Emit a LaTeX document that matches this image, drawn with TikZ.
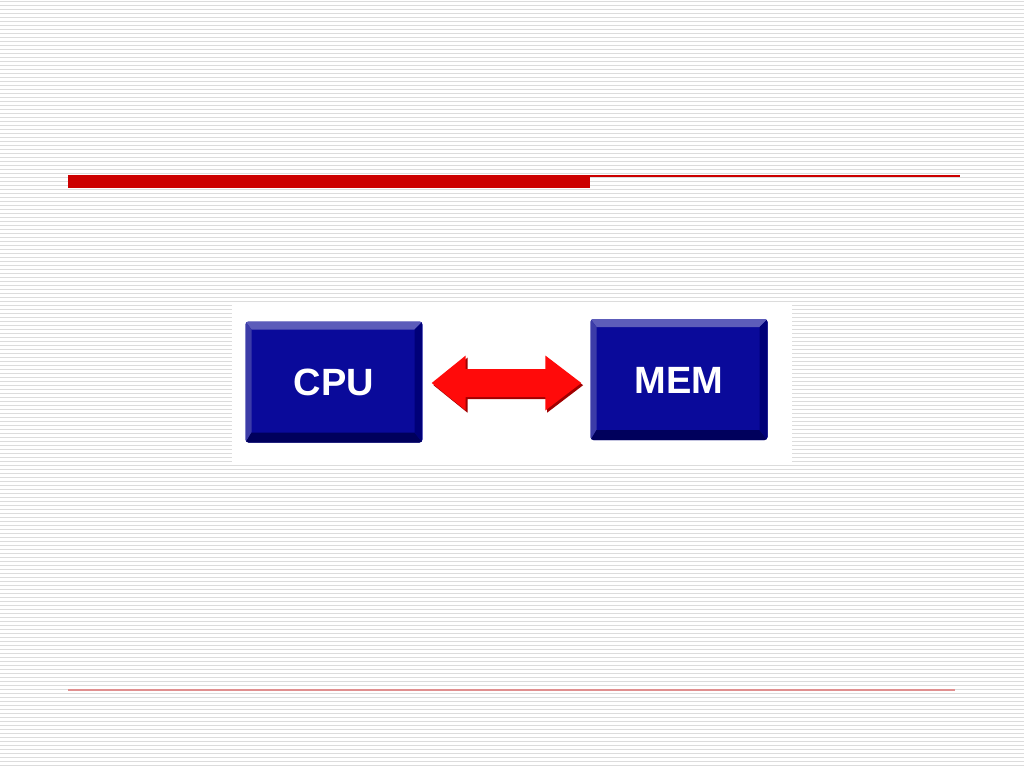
\documentclass[tikz,border=0pt]{standalone}
\usepackage{fontspec}
\setmainfont{Liberation Sans}
\usetikzlibrary{calc}
\definecolor{stripecol}{HTML}{DCDCDC}
\definecolor{barred}{HTML}{CC0000}
\definecolor{faintred}{HTML}{E09090}
\definecolor{keyface}{HTML}{0A0A9A}
\definecolor{keytop}{HTML}{5C5CBA}
\definecolor{keyleft}{HTML}{3C3CA8}
\definecolor{keybottom}{HTML}{00005C}
\definecolor{keyright}{HTML}{000078}
\definecolor{arrowred}{HTML}{FF0A0A}
\definecolor{arrowshade}{HTML}{A00000}
\tikzset{
  stripe/.style={draw=stripecol, line width=1.2pt},
  keybox/.style={rounded corners=3pt, fill=keyface, text=white,
    font=\fontsize{38}{40}\selectfont\bfseries, inner sep=0pt,
    text height=27pt, text depth=0pt,
    minimum width=177pt, minimum height=121pt,
    path picture={
      \fill[keytop, sharp corners] (path picture bounding box.north west) -- (path picture bounding box.north east)
        -- ([shift={(-8pt,-8pt)}]path picture bounding box.north east) -- ([shift={(6pt,-8pt)}]path picture bounding box.north west) -- cycle;
      \fill[keyleft, sharp corners] (path picture bounding box.north west) -- ([shift={(6pt,-8pt)}]path picture bounding box.north west)
        -- ([shift={(6pt,10pt)}]path picture bounding box.south west) -- (path picture bounding box.south west) -- cycle;
      \fill[keybottom, sharp corners] (path picture bounding box.south west) -- ([shift={(6pt,10pt)}]path picture bounding box.south west)
        -- ([shift={(-8pt,10pt)}]path picture bounding box.south east) -- (path picture bounding box.south east) -- cycle;
      \fill[keyright, sharp corners] (path picture bounding box.south east) -- ([shift={(-8pt,10pt)}]path picture bounding box.south east)
        -- ([shift={(-8pt,-8pt)}]path picture bounding box.north east) -- (path picture bounding box.north east) -- cycle;
    }},
}
\begin{document}
\begin{tikzpicture}[x=1pt,y=-1pt]
  \useasboundingbox (0,0) rectangle (1024,768);
  \fill[white] (0,0) rectangle (1024,768);
  \foreach \yy in {1.5,5.5,...,767.5} \draw[stripe] (0,\yy) -- (1024,\yy);
  % title rule
  \fill[barred] (68,175) rectangle (590,188);
  \draw[barred, line width=1.5pt] (589,175.8) -- (960,175.8);
  % bottom rule
  \draw[faintred, line width=1.2pt] (68,690) -- (955,690);
  % picture panel
  \fill[white] (232,304) rectangle (792,463);
  % boxes
  \node[keybox] (cpu) at (334,382) {CPU};
  \node[keybox] (mem) at (679,379.5) {MEM};
  % double arrow between them
  \coordinate (al) at ($(cpu.east)+(9,1)$);
  \coordinate (ar) at ($(mem.west)+(-9,3.5)$);
  \begin{scope}[transform canvas={shift={(1.8pt,-2.2pt)}}]
  \fill[arrowshade] (al) -- ($(al)+(34,-27.5)$) -- ($(al)+(34,-14)$) -- ($(ar)+(-36,-14)$)
     -- ($(ar)+(-36,-27.5)$) -- (ar) -- ($(ar)+(-36,27.5)$) -- ($(ar)+(-36,14)$) -- ($(al)+(34,14)$) -- ($(al)+(34,27.5)$) -- cycle;
  \end{scope}
  \fill[arrowred] (al) -- ($(al)+(34,-27.5)$) -- ($(al)+(34,-14)$) -- ($(ar)+(-36,-14)$)
     -- ($(ar)+(-36,-27.5)$) -- (ar) -- ($(ar)+(-36,27.5)$) -- ($(ar)+(-36,14)$) -- ($(al)+(34,14)$) -- ($(al)+(34,27.5)$) -- cycle;
\end{tikzpicture}
\end{document}
